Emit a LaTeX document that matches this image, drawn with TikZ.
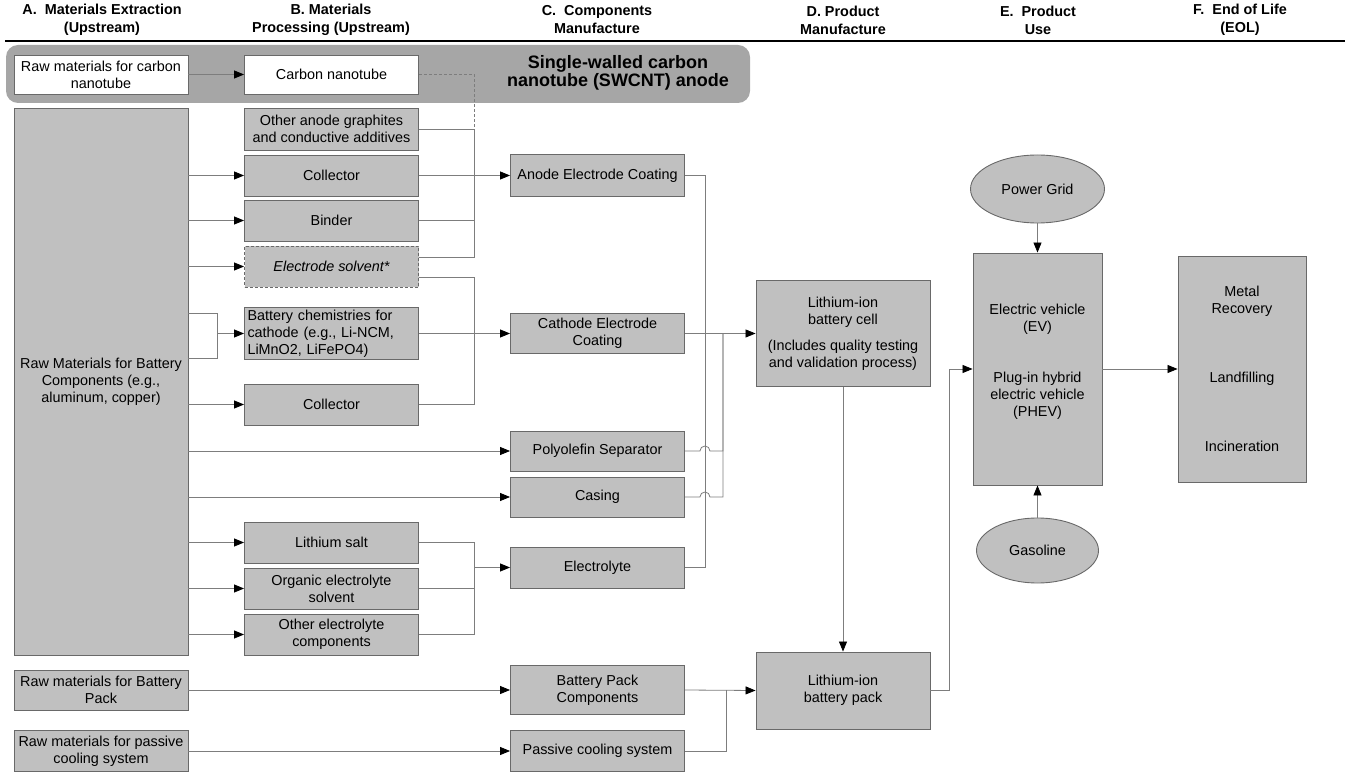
\documentclass[tikz,border=0pt]{standalone}
\usepackage{fontspec}
\setmainfont{Liberation Sans}
\usetikzlibrary{arrows.meta,shapes.geometric,calc}
\definecolor{boxfill}{RGB}{192,192,192}
\definecolor{boxline}{RGB}{105,105,105}
\definecolor{wireline}{RGB}{125,125,125}
\definecolor{bandfill}{RGB}{166,166,166}

\begin{document}
\begin{tikzpicture}[x=1pt, y=-1pt, >={Triangle[length=10pt,width=8pt,color=black]},
    box/.style={draw=boxline, fill=boxfill, line width=0.9pt, align=center, inner sep=2pt,
      minimum width=174pt, minimum height=41pt, font=\fontsize{14.4}{17}\selectfont},
    whitebox/.style={box, fill=white},
    oval/.style={box, ellipse},
    head/.style={align=center, font=\fontsize{14.4}{18}\selectfont\bfseries},
    wire/.style={draw=wireline, line width=0.8pt}]
    \useasboundingbox (0,0) rectangle (1350,783);

    % Stage headings
    \node[head] (hA) at (102,20) {A.\ \ Materials Extraction\\(Upstream)};
    \node[head] (hB) at (331,20) {B. Materials\\Processing (Upstream)};
    \node[head] (hC) at (597,20) {C.\ \ Components\\Manufacture};
    \node[head] (hD) at (843,20) {D. Product\\Manufacture};
    \node[head] (hE) at (1038,20) {E.\ \ Product\\Use};
    \node[head] (hF) at (1240,20) {F.\ \ End of Life\\(EOL)};
    \draw[line width=2pt] (5,41) -- (1345,41);

    % SWCNT band
    \fill[bandfill, rounded corners=12pt] (6,45) rectangle (750,103);
    \node[align=center, font=\fontsize{18}{18}\selectfont\bfseries] (swcnt) at (618,73)
        {Single-walled carbon\\nanotube (SWCNT) anode};
    \node[whitebox, minimum height=39pt] (rawcnt) at (101,74.5) {Raw materials for carbon\\nanotube};
    \node[whitebox, minimum height=39pt] (cnt) at (331.5,74.5) {Carbon nanotube};

    % Column A
    \node[box, minimum height=547pt] (rawbat) at (101,381.5) {Raw Materials for Battery\\Components (e.g.,\\aluminum, copper)};
    \node[box, minimum height=40pt] (rawpack) at (101,690) {Raw materials for Battery\\Pack};
    \node[box] (rawcool) at (101,751) {Raw materials for passive\\cooling system};

    % Column B
    \node[box, minimum height=42pt] (ogr) at (331.5,129) {Other anode graphites\\and conductive additives};
    \node[box] (coll1) at (331.5,175.5) {Collector};
    \node[box] (binder) at (331.5,220.5) {Binder};
    \node[box, dash pattern=on 3pt off 2pt] (solv) at (331.5,266.5) {\itshape Electrode solvent*};
    \node[box, minimum height=51pt, text width=168pt, align=left] (chem) at (331.5,333.5)
        {Battery chemistries for\\cathode (e.g., Li-NCM,\\LiMnO2, LiFePO4)};
    \node[box] (coll2) at (331.5,404.5) {Collector};
    \node[box] (lisalt) at (331.5,542.5) {Lithium salt};
    \node[box] (orgsolv) at (331.5,588.5) {Organic electrolyte\\solvent};
    \node[box] (othel) at (331.5,634.5) {Other electrolyte\\components};

    % Column C
    \node[box, minimum height=42pt] (anode) at (597.5,175.5) {Anode Electrode Coating};
    \node[box, minimum height=40pt] (cathode) at (597.5,333.5) {Cathode Electrode\\Coating};
    \node[box, minimum height=40pt] (sep) at (597.5,451) {Polyolefin Separator};
    \node[box, minimum height=40pt] (casing) at (597.5,497) {Casing};
    \node[box] (electrolyte) at (597.5,567.5) {Electrolyte};
    \node[box, minimum height=49pt] (packcomp) at (597.5,690) {Battery Pack\\Components};
    \node[box] (cooling) at (597.5,751) {Passive cooling system};

    % Column D
    \node[box, minimum height=106pt] (cell) at (843,333.5)
        {Lithium-ion\\battery cell\\[9pt](Includes quality testing\\and validation process)};
    \node[box, minimum height=77pt] (pack) at (843,690.5) {Lithium-ion\\battery pack};

    % Column E and F
    \node[oval, minimum width=134pt, minimum height=68pt] (grid) at (1037.5,189) {Power Grid};
    \node[box, minimum width=129pt, minimum height=232pt] (ev) at (1037.5,369)
        {Electric vehicle\\(EV)\\[34pt]Plug-in hybrid\\electric vehicle\\(PHEV)\\[1pt]\mbox{}};
    \node[oval, minimum width=122pt, minimum height=65pt] (gas) at (1037.5,550.5) {Gasoline};
    \node[box, minimum width=128pt, minimum height=226pt] (eol) at (1242,369)
        {Metal\\Recovery\\[52pt]Landfilling\\[52pt]Incineration};

    % A -> B
    \draw[wire,->] (rawcnt) -- (cnt);
    \draw[wire,->] (rawbat.east |- coll1.west) -- (coll1.west);
    \draw[wire,->] (rawbat.east |- binder.west) -- (binder.west);
    \draw[wire,->] (rawbat.east |- solv.west) -- (solv.west);
    \coordinate (chemfork) at (217,333.5);
    \draw[wire] (rawbat.east |- 0,313) -| (chemfork |- 0,358) -- (rawbat.east |- 0,358);
    \draw[wire,->] (chemfork) -- (chem.west);
    \draw[wire,->] (rawbat.east |- coll2.west) -- (coll2.west);
    \draw[wire,->] (rawbat.east |- sep.west) -- (sep.west);
    \draw[wire,->] (rawbat.east |- casing.west) -- (casing.west);
    \draw[wire,->] (rawbat.east |- lisalt.west) -- (lisalt.west);
    \draw[wire,->] (rawbat.east |- orgsolv.west) -- (orgsolv.west);
    \draw[wire,->] (rawbat.east |- othel.west) -- (othel.west);
    \draw[wire,->] (rawpack) -- (packcomp);
    \draw[wire,->] (rawcool) -- (cooling);

    % B -> C
    \coordinate (anodebus) at (474,175.5);
    \draw[wire, dash pattern=on 3pt off 2pt] (cnt.east) -| (anodebus |- ogr.east);
    \draw[wire] (ogr.east) -| (anodebus);
    \draw[wire] (binder.east) -| (anodebus);
    \draw[wire] (solv.east |- 0,257) -| (anodebus);
    \draw[wire,->] (coll1.east) -- (anode.west);
    \coordinate (cathbus) at (474,333.5);
    \draw[wire] (solv.east |- 0,277) -| (cathbus);
    \draw[wire] (coll2.east) -| (cathbus);
    \draw[wire,->] (chem.east) -- (cathode.west);
    \coordinate (elbus) at (474,567.5);
    \draw[wire] (lisalt.east) -| (elbus);
    \draw[wire] (othel.east) -| (elbus);
    \draw[wire] (orgsolv.east) -- (orgsolv.east -| elbus);
    \draw[wire,->] (elbus) -- (electrolyte.west);

    % C -> D
    \coordinate (cellbus) at (723,333.5);
    \draw[wire,->] (cathode.east) -- (cell.west);
    \draw[wire] (anode.east) -- ++(20,0) |- (electrolyte.east);
    \draw[wire] (sep.east) -- ++(15,0) arc[start angle=180, end angle=0, radius=5pt] -| (cellbus);
    \draw[wire] (casing.east) -- ++(15,0) arc[start angle=180, end angle=0, radius=5pt] -| (cellbus);
    \coordinate (packbus) at (726,690);
    \draw[wire,->] (packcomp.east) -- (pack.west);
    \draw[wire] (cooling.east) -| (packbus);
    \draw[wire,->] (cell.south) -- (pack.north);

    % D -> E -> F
    \draw[wire,->] (pack.east) -- ++(19,0) |- (ev.west);
    \draw[wire,->] (grid) -- (ev);
    \draw[wire,->] (gas) -- (ev);
    \draw[wire,->] (ev) -- (eol);
\end{tikzpicture}
\end{document}
